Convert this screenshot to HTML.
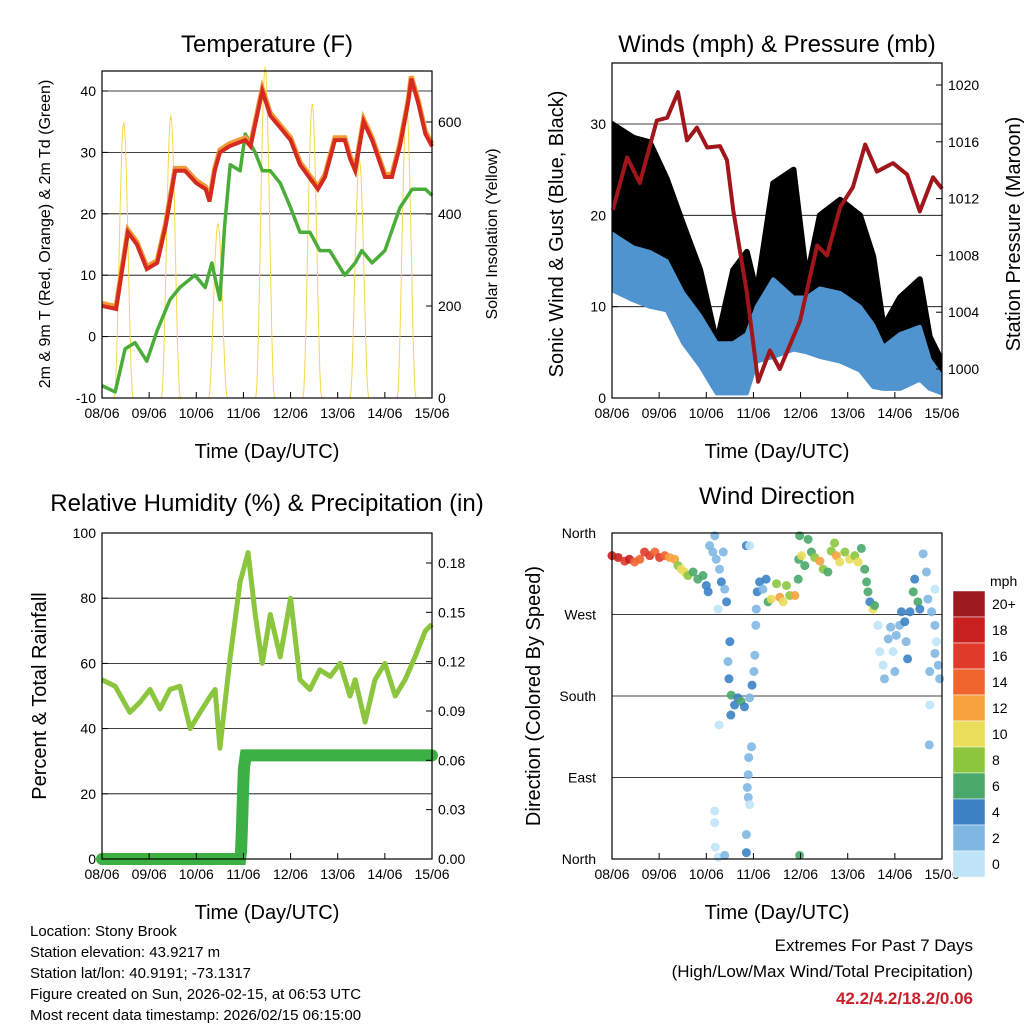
<!DOCTYPE html>
<html><head><meta charset="utf-8"><style>
body{margin:0;background:#fff}
svg{font-family:"Liberation Sans",sans-serif}
</style></head><body>
<svg id="s" width="1024" height="1024" xmlns="http://www.w3.org/2000/svg">
<rect width="1024" height="1024" fill="#fff"/>
<defs><clipPath id="cw"><rect x="612" y="63" width="330" height="335"/></clipPath></defs>
</svg>
<script>
// ---------- DATA ----------
const dayLabels=["08/06","09/06","10/06","11/06","12/06","13/06","14/06","15/06"];
// Temperature panel (time in days since 08/06 00 UTC)
const tTime=[0,0.3,0.55,0.74,0.95,1.17,1.35,1.55,1.76,2.0,2.2,2.28,2.39,2.5,2.7,3.04,3.15,3.4,3.57,4.0,4.2,4.58,4.73,4.94,5.15,5.26,5.37,5.55,5.73,6.0,6.15,6.32,6.49,6.56,6.71,6.86,7.0];
const tRed=[5,4.5,17,15,11,12,18,27,27,25,24,22,27,30,31,32,31,40,36,32,28,24,26,32,32,29,27,35,32,26,26,31,38,42,38,33,31];
const dTime=[0,0.28,0.49,0.7,0.95,1.17,1.44,1.65,1.97,2.19,2.33,2.5,2.6,2.72,2.93,3.04,3.25,3.4,3.57,3.78,4.0,4.2,4.41,4.62,4.83,5.15,5.37,5.51,5.73,6.0,6.32,6.58,6.86,7.0];
const dGreen=[-8,-9,-2,-1,-4,1,6,8,10,8,12,6,18,28,27,33,30,27,27,25,21,17,17,14,14,10,12,14,12,14,21,24,24,23];
const solarPeaks=[600,615,380,720,640,520,640]; // daily max insolation (W/m2)
// Winds panel
const wTime=[0,0.45,0.8,1.16,1.51,1.87,2.22,2.57,2.86,3.07,3.42,3.85,4.13,4.41,4.84,5.26,5.54,5.76,6.11,6.53,6.74,7.0];
const gustHi=[30,28.5,28,24,19,14,6,14,16,11.5,23.5,25,13,20,21.7,20,15.5,7.8,11,13,6.7,4];
const sonicHi=[18,16.5,16,15,11.5,9,6,6,7,10,13,11,11,12,11.5,10,8,5.6,7,7.8,4.2,2.3];
const sonicLo=[11.8,10.7,10,9.6,6,3.5,0.5,0.5,0.5,4,4.5,5.3,5,4.5,4,3,1.2,1,1,2,1,0.5];
const pTime=[0.02,0.32,0.59,0.95,1.17,1.4,1.59,1.8,2.02,2.29,2.44,2.57,2.86,3.1,3.35,3.56,3.99,4.35,4.56,4.84,5.11,5.37,5.62,5.96,6.26,6.53,6.81,7.0];
const pres=[1011.2,1014.9,1013.1,1017.5,1017.7,1019.5,1016.1,1017,1015.6,1015.7,1014.7,1011.2,1005.4,999.1,1001.3,1000,1003.4,1008.7,1008,1011.4,1012.8,1015.8,1013.9,1014.5,1013.7,1011.1,1013.5,1012.7];
// RH panel
const rhTime=[0,0.28,0.59,0.8,1.02,1.23,1.44,1.65,1.87,2.08,2.3,2.4,2.5,2.72,2.93,3.1,3.25,3.4,3.57,3.78,4.0,4.2,4.41,4.62,4.84,5.05,5.26,5.37,5.58,5.79,6.0,6.22,6.43,6.64,6.86,7.0];
const rh=[55,53,45,48,52,46,52,53,40,45,50,52,34,62,85,94,75,60,75,62,80,55,52,58,56,60,50,55,42,55,60,50,55,62,70,72];
const pcpTime=[0,2.93,2.95,2.97,2.99,3.01,3.05,3.2,3.6,4,4.5,5,5.5,6,6.5,7];
const pcp=[0,0,0.005,0.02,0.04,0.055,0.063,0.063,0.063,0.063,0.063,0.063,0.063,0.063,0.063,0.063];
// Wind direction panel
const dirTime=[0.00,0.13,0.27,0.37,0.48,0.59,0.69,0.80,0.91,1.01,1.12,1.22,1.33,1.40,1.47,1.54,1.61,1.72,1.82,1.93,2.00,2.04,
2.07,2.14,2.21,2.28,2.32,2.39,2.43,2.25,2.18,2.36,
2.50,2.46,2.48,2.53,2.60,2.67,2.74,2.81,2.92,2.97,3.01,3.03,2.52,2.27,
2.96,2.90,2.89,2.87,2.89,2.92,2.85,2.85,2.18,2.18,2.19,2.25,2.39,2.85,2.92,
3.05,3.06,
3.08,3.13,3.20,3.27,3.31,3.38,3.49,3.56,3.63,3.70,3.77,3.88,3.95,3.96,
3.98,4.02,4.09,4.16,4.23,4.30,4.41,4.48,4.58,4.65,4.72,4.76,4.83,4.94,5.04,5.15,5.22,5.29,5.36,5.40,5.43,5.47,5.54,5.57,
5.64,5.68,5.75,5.78,5.86,5.91,5.96,6.00,6.03,6.10,6.14,6.21,6.24,6.27,6.32,6.39,6.42,6.49,6.53,6.60,6.67,6.70,6.78,6.85,6.88,6.92,6.95,6.74,6.74,6.73,6.85,6.85,3.98];
const dir=[335,333,329,331,328,331,339,335,339,333,335,333,331,324,320,317,313,317,309,313,302,295,
346,339,331,320,306,298,284,276,357,339,
240,218,199,181,170,178,174,168,178,192,207,225,159,148,
124,112,93,79,68,60,27,7,53,40,13,2,4,346,346,
258,276,
295,306,298,309,284,287,304,289,284,302,291,291,309,331,
357,335,324,353,339,333,329,320,317,340,349,335,328,339,331,335,328,343,320,306,295,284,276,280,
258,229,214,199,243,256,229,207,247,258,273,262,240,221,273,295,309,284,276,337,317,287,273,258,240,214,199,207,170,126,298,227,4];
const dirSpd=[18,18,16,18,15,15,17,16,15,17,14,13,12,9,10,10,8,7,6,7,4,4,
2,3,2,2,4,3,4,1,2,3,
4,3,4,6,4,5,6,4,3,4,2,2,4,0,
2,2,2,2,2,1,3,4,0,0,0,1,3,4,1,
2,3,
4,4,3,5,6,10,8,12,10,8,9,13,7,6,
6,10,6,6,7,9,12,9,7,8,8,13,10,8,10,9,10,7,6,6,7,5,10,6,
1,0,1,2,2,3,1,2,2,3,4,4,3,4,5,6,4,6,4,2,2,2,2,2,1,2,2,2,1,2,1,2,6];
const cbLabels=["20+","18","16","14","12","10","8","6","4","2","0"];
const cbColors=["#9b1b1e","#c8201f","#e03a2b","#f0642e","#f7a23d","#e9dd5a","#8cc63f","#4aa86a","#3b82c4","#7fb7e3","#bfe4f8"];

// ---------- HELPERS ----------
const S=document.getElementById('s');const NS="http://www.w3.org/2000/svg";
function mk(tag,attrs,txt){const e=document.createElementNS(NS,tag);for(const k in attrs)e.setAttribute(k,attrs[k]);if(txt!==undefined)e.textContent=txt;S.appendChild(e);return e;}
function lin(d0,d1,r0,r1){return v=>r0+(v-d0)*(r1-r0)/(d1-d0);}
function poly(xs,ys,fx,fy){return xs.map((t,i)=>fx(t).toFixed(1)+","+fy(ys[i]).toFixed(1)).join(" ");}
function band(xs,hi,lo,fx,fy){const a=xs.map((t,i)=>fx(t).toFixed(1)+","+fy(hi[i]).toFixed(1));const b=xs.map((t,i)=>fx(t).toFixed(1)+","+fy(lo[i]).toFixed(1)).reverse();return a.concat(b).join(" ");}
function xAxis(fx,y,name){dayLabels.forEach((l,i)=>{const x=fx(i);
 const t=mk('line',{x1:x,x2:x,y1:y,y2:y-6,stroke:'#000'});
 const tx=mk('text',{x:x,y:y+20,'font-size':14,'text-anchor':'middle'},l);});}
function box(x0,y0,x1,y1,name){const r=mk('rect',{x:x0,y:y0,width:x1-x0,height:y1-y0,fill:'none',stroke:'#000','stroke-width':1.2});}
function grid(vals,fy,x0,x1,name){vals.forEach(v=>{const y=fy(v);const g=mk('line',{x1:x0,x2:x1,y1:y,y2:y,stroke:'#000','stroke-width':0.8});});}
function yTicks(vals,labels,fy,x,side,name){vals.forEach((v,i)=>{const y=fy(v);
 const t=mk('text',{x:side<0?x-6:x+6,y:y+5,'font-size':14,'text-anchor':side<0?'end':'start'},labels[i]);
 const l=mk('line',{x1:x,x2:x-side*6,y1:y,y2:y,stroke:'#000'});});}
function label(x,y,txt,size,rot,name,fill){const a={x:x,y:y,'font-size':size,'text-anchor':'middle',fill:fill||'#000'};if(rot)a.transform=`rotate(${rot} ${x} ${y})`;const t=mk('text',a,txt);return t;}

// ---------- PANEL 1: Temperature ----------
{const X0=102,X1=432,Y0=71,Y1=398;const fx=lin(0,7,X0,X1);const fy=lin(-10,40,398,91);const fs=lin(0,600,398,122);
 grid([0,10,20,30,40],fy,X0,X1,'temp');
 solarPeaks.forEach((pk,d)=>{const xs=[],ys=[];for(let k=0;k<=20;k++){const f=k/20;xs.push(d+0.26+f*0.4);ys.push(pk*Math.pow(Math.sin(Math.PI*f),2));}
  const p=mk('polyline',{points:xs.map((t,i)=>fx(t).toFixed(1)+","+fs(ys[i]).toFixed(1)).join(" "),fill:'none',stroke:'#f6d84a','stroke-width':1});});
 const g=mk('polyline',{points:poly(dTime,dGreen,fx,fy),fill:'none',stroke:'#4aad3a','stroke-width':3.5,'stroke-linejoin':'round'});
 const o=mk('polyline',{points:poly(tTime,tRed.map(v=>v+0.4),fx,fy),fill:'none',stroke:'#f29a38','stroke-width':5});
 const r=mk('polyline',{points:poly(tTime,tRed,fx,fy),fill:'none',stroke:'#d42a20','stroke-width':4});
 box(X0,Y0,X1,Y1,'temp');
 yTicks([-10,0,10,20,30,40],["-10","0","10","20","30","40"],fy,X0,-1,'temp-y');
 yTicks([0,200,400,600],["0","200","400","600"],fs,X1,1,'solar-y');
 xAxis(fx,Y1,'temp');
 label(267,52,'Temperature (F)',24,0,'temp-title');
 label(267,458,'Time (Day/UTC)',20,0,'temp-x-title');
 label(50,234,'2m & 9m T (Red, Orange) & 2m Td (Green)',16,-90,'temp-y-title');
 label(497,234,'Solar Insolation (Yellow)',16,-90,'solar-y-title');}

// ---------- PANEL 2: Winds ----------
{const X0=612,X1=942,Y0=63,Y1=398;const fx=lin(0,7,X0,X1);const fy=lin(0,30,398,124);const fp=lin(1000,1020,369,85);
 grid([10,20,30],fy,X0,X1,'winds');
 const gb=mk('polygon',{points:band(wTime,gustHi,sonicHi,fx,fy),fill:'#000',stroke:'#000','stroke-width':6,'stroke-linejoin':'round','clip-path':'url(#cw)'});
 const sb=mk('polygon',{points:band(wTime,sonicHi,sonicLo,fx,fy),fill:'#4f93cf',stroke:'#4f93cf','stroke-width':4,'stroke-linejoin':'round','clip-path':'url(#cw)'});
 const pl=mk('polyline',{points:poly(pTime,pres,fx,fp),fill:'none',stroke:'#a0161a','stroke-width':4,'stroke-linejoin':'round'});
 box(X0,Y0,X1,Y1,'winds');
 yTicks([0,10,20,30],["0","10","20","30"],fy,X0,-1,'winds-y');
 yTicks([1000,1004,1008,1012,1016,1020],["1000","1004","1008","1012","1016","1020"],fp,X1,1,'pressure-y');
 xAxis(fx,Y1,'winds');
 label(777,52,'Winds (mph) & Pressure (mb)',24,0,'winds-title');
 label(777,458,'Time (Day/UTC)',20,0,'winds-x-title');
 label(563,234,'Sonic Wind & Gust (Blue, Black)',20,-90,'winds-y-title');
 label(1020,234,'Station Pressure (Maroon)',20,-90,'pressure-y-title');}

// ---------- PANEL 3: RH ----------
{const X0=102,X1=432,Y0=533,Y1=859;const fx=lin(0,7,X0,X1);const fy=lin(0,100,859,533);const fpc=lin(0,0.18,859,563);
 grid([20,40,60,80],fy,X0,X1,'rh');
 const p=mk('polyline',{points:poly(rhTime,rh,fx,fy),fill:'none',stroke:'#8cc63e','stroke-width':5,'stroke-linejoin':'round'});
 const q=mk('polyline',{points:poly(pcpTime,pcp,fx,fpc),fill:'none',stroke:'#3cb043','stroke-width':12,'stroke-linecap':'round'});
 pcpTime.slice(1,7).forEach((t,i)=>{const c=mk('circle',{cx:fx(t),cy:fpc(pcp[i+1]),r:6,fill:'#3cb043'});});
 box(X0,Y0,X1,Y1,'rh');
 yTicks([0,20,40,60,80,100],["0","20","40","60","80","100"],fy,X0,-1,'rh-y');
 yTicks([0,0.03,0.06,0.09,0.12,0.15,0.18],["0.00","0.03","0.06","0.09","0.12","0.15","0.18"],fpc,X1,1,'precip-y');
 xAxis(fx,Y1,'rh');
 label(267,511,'Relative Humidity (%) & Precipitation (in)',24,0,'rh-title');
 label(267,919,'Time (Day/UTC)',20,0,'rh-x-title');
 label(46,696,'Percent & Total Rainfall',20,-90,'rh-y-title');}

// ---------- PANEL 4: Wind direction ----------
{const X0=612,X1=942,Y0=533,Y1=859;const fx=lin(0,7,X0,X1);const fy=lin(0,360,859,533);
 grid([90,180,270],fy,X0,X1,'dir');
 const col=s=>cbColors[10-Math.min(10,Math.floor(s/2))];
 dirTime.forEach((t,i)=>{const c=mk('circle',{cx:fx(t),cy:fy(dir[i]),r:4.5,fill:col(dirSpd[i]),'fill-opacity':0.9});});
 box(X0,Y0,X1,Y1,'dir');
 const dl=["North","East","South","West","North"];
 [0,90,180,270,360].forEach((v,i)=>{const t=mk('text',{x:X0-16,y:fy(v)+5,'font-size':14,'text-anchor':'end'},dl[i]);});
 xAxis(fx,Y1,'dir');
 label(777,504,'Wind Direction',24,0,'dir-title');
 label(777,919,'Time (Day/UTC)',20,0,'dir-x-title');
 label(540,696,'Direction (Colored By Speed)',20,-90,'dir-y-title');
 cbColors.forEach((c,i)=>{const r=mk('rect',{x:953,y:591+i*26,width:32,height:26,fill:c,stroke:'#fff','stroke-width':0.5});
  const t=mk('text',{x:992,y:609+i*26,'font-size':14},cbLabels[i]);});
 const m=mk('text',{x:990,y:586,'font-size':14},'mph');}

// ---------- Footer ----------
["Location: Stony Brook","Station elevation: 43.9217 m","Station lat/lon: 40.9191; -73.1317","Figure created on Sun, 2026-02-15, at 06:53 UTC","Most recent data timestamp: 2026/02/15 06:15:00"].forEach((l,i)=>{const t=mk('text',{x:30,y:936+i*21,'font-size':15},l);});
{const a=mk('text',{x:973,y:951,'font-size':17,'text-anchor':'end'},'Extremes For Past 7 Days');
 const b=mk('text',{x:973,y:977,'font-size':17,'text-anchor':'end'},'(High/Low/Max Wind/Total Precipitation)');
 const c=mk('text',{x:973,y:1004,'font-size':17,'text-anchor':'end','font-weight':'bold',fill:'#c8202a'},'42.2/4.2/18.2/0.06');}
</script>
</body></html>
